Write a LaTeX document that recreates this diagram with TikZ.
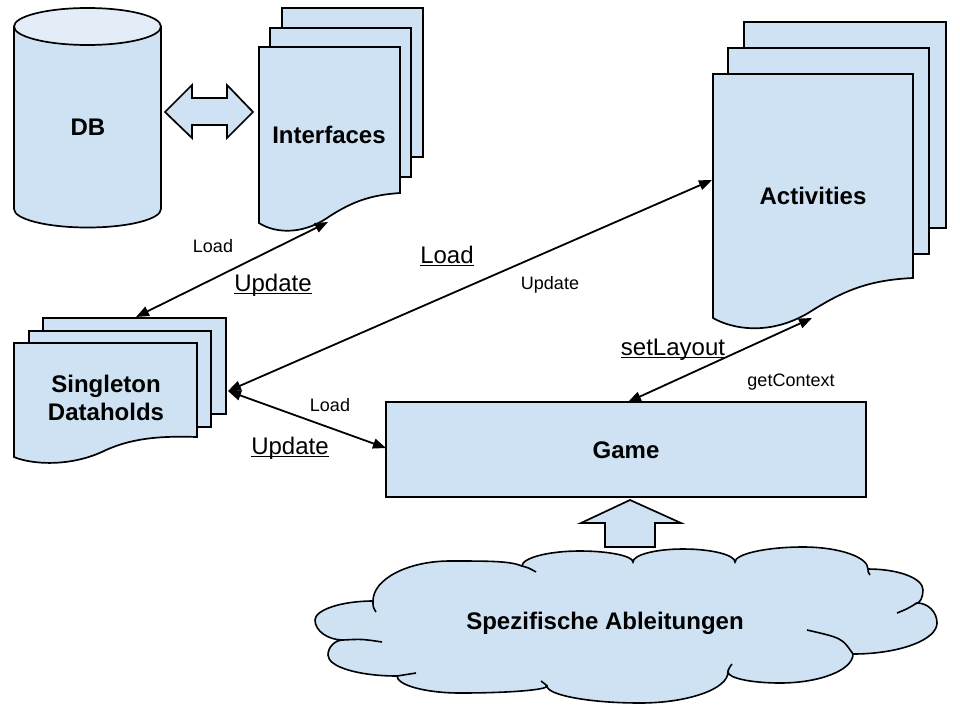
\documentclass[tikz,border=0pt]{standalone}
\usepackage{fontspec}
\setmainfont{Liberation Sans}
\usetikzlibrary{arrows.meta}
\definecolor{boxblue}{RGB}{207,226,243}
\definecolor{topblue}{RGB}{226,237,248}
\newsavebox\ulbox
\newcommand\ulx[1]{\sbox\ulbox{#1}\rlap{\rule[-3pt]{\wd\ulbox}{1.4pt}}\usebox\ulbox}
\begin{document}
\begin{tikzpicture}[x=1pt,y=-1pt,
  shapeline/.style={draw=black, line width=1.7pt, fill=boxblue, line join=miter},
  cloudline/.style={draw=black, line width=1.6pt},
  conn/.style={draw=black, line width=1.8pt, {Triangle[length=13pt,width=10pt]}-{Triangle[length=13pt,width=10pt]}},
  bigtext/.style={font=\fontsize{24}{28}\selectfont\bfseries, inner sep=0pt},
  lbl/.style={font=\fontsize{18}{22}\selectfont, inner sep=0pt, anchor=base},
  ullbl/.style={font=\fontsize{24}{28}\selectfont, inner sep=0pt, anchor=base}]
\path[use as bounding box, fill=white] (0,0) rectangle (960,720);

% DB cylinder
\path[shapeline] (14,26.5) -- (14,209) .. controls (14,219.2) and (46.7,227.5) .. (87.5,227.5)
  .. controls (128.3,227.5) and (161,219.2) .. (161,209) -- (161,26.5) -- cycle;
\path[shapeline, fill=topblue] (87.5,26.5) ellipse [x radius=73.5, y radius=18.5];
\node (db) [bigtext, anchor=base] at (88,135) {DB};

% double arrow DB <-> Interfaces
\path[shapeline] (165,112) -- (192,85) -- (192,98) -- (227,98) -- (227,85) -- (253,112)
  -- (227,138) -- (227,125) -- (192,125) -- (192,138) -- cycle;

% Interfaces stack
\path[shapeline] (282,8) rectangle (423,157);
\path[shapeline] (270,28) rectangle (411,177);
\path[shapeline] (259,47) -- (400,47) -- (400,193) .. controls (370,195) and (352,202) .. (330,216)
  .. controls (299,238) and (271,231) .. (259,223) -- cycle;
\node (interfaces) [bigtext, anchor=base] at (329,143) {Interfaces};

% Activities stack
\path[shapeline] (744,22) rectangle (946,228);
\path[shapeline] (728,48) rectangle (929,254);
\path[shapeline] (713,74) -- (913,74) -- (913,278) .. controls (870,280) and (845,290) .. (813,310)
  .. controls (770,338) and (730,328) .. (713,318) -- cycle;
\node (activities) [bigtext, anchor=base] at (813,204) {Activities};

% Singleton Dataholds stack
\path[shapeline] (43,318) rectangle (226,414);
\path[shapeline] (29,331) rectangle (211,427);
\path[shapeline] (14,343) -- (197,343) -- (197,437) .. controls (165,436) and (135,437) .. (106,450)
  .. controls (70,468) and (30,464) .. (14,457) -- cycle;
\node (single) [bigtext, align=center] at (106,398) {Singleton\\Dataholds};

% Game
\path[shapeline] (386,402) rectangle (866,497);
\node (game) [bigtext, anchor=base] at (626,458) {Game};

% up arrow
\path[shapeline] (630,500) -- (681,523) -- (655,523) -- (655,547) -- (605,547) -- (605,523)
  -- (581,523) -- cycle;

% cloud
\path[shapeline, line width=1.6pt] (343,640)
  .. controls (328,640) and (315,631) .. (315,620)
  .. controls (315,610) and (341,601) .. (373,601)
  .. controls (373,579) and (408,561) .. (450,561)
  .. controls (490,561) and (510,561) .. (522,566)
  .. controls (522,558) and (548,551) .. (580,551)
  .. controls (609,551) and (633,556) .. (633,562)
  .. controls (633,555) and (655,549) .. (683,549)
  .. controls (712,549) and (735,555) .. (735,562)
  .. controls (735,554) and (766,547) .. (803,547)
  .. controls (839,547) and (868,557) .. (868,569)
  .. controls (898,569) and (923,578) .. (923,590)
  .. controls (923,597) and (920,603) .. (917,603)
  .. controls (928,603) and (937,612) .. (937,623)
  .. controls (937,640) and (899,654) .. (853,654)
  .. controls (853,670) and (820,683) .. (780,683)
  .. controls (751,683) and (728,678) .. (728,672)
  .. controls (728,689) and (688,703) .. (640,703)
  .. controls (589,703) and (547,695) .. (547,686)
  .. controls (547,690) and (508,693) .. (460,693)
  .. controls (425,693) and (397,685) .. (397,676)
  .. controls (359,676) and (328,667) .. (328,655)
  .. controls (328,647) and (335,640) .. (343,640) -- cycle;
\draw[cloudline] (522,566) .. controls (529,568) .. (536,572);
\draw[cloudline] (917,603) .. controls (907,609) .. (897,613);
\draw[cloudline] (853,654) .. controls (842,638) .. (807,630);
\draw[cloudline] (728,672) .. controls (729,668) .. (732,664);
\draw[cloudline] (547,686) .. controls (545,684) .. (541,681);
\draw[cloudline] (397,676) .. controls (406,675) .. (416,673);
\draw[cloudline] (343,640) .. controls (362,639) .. (382,642);
\draw[cloudline] (373,601) .. controls (373,607) .. (376,612);
\draw[cloudline] (868,569) .. controls (868,572) .. (870,575);
\node (spez) [bigtext, anchor=base] at (605,629) {Spezifische Ableitungen};

% connector end points
\coordinate (ifb) at (328,222);
\coordinate (sdt) at (136,317);
\coordinate (sdr) at (228,391);
\coordinate (acl) at (712,180);
\coordinate (gml) at (386,448);
\coordinate (acb) at (812,318);
\coordinate (gmt) at (628,402);

\draw[conn] (sdt) -- (ifb);
\draw[conn] (sdr) -- (acl);
\draw[conn] (sdr) -- (gml);
\draw[conn] (gmt) -- (acb);

% labels
\node (l1) [lbl] at (213,252) {Load};
\node (u1) [ullbl] at (273,291) {\ulx{Update}};
\node (l2) [ullbl] at (447,263) {\ulx{Load}};
\node (u2) [lbl] at (550,289) {Update};
\node (l3) [lbl] at (330,411) {Load};
\node (u3) [ullbl] at (290,454) {\ulx{Update}};
\node (sl) [ullbl] at (673,355) {\ulx{setLayout}};
\node (gc) [lbl] at (791,386) {getContext};
\end{tikzpicture}
\end{document}
